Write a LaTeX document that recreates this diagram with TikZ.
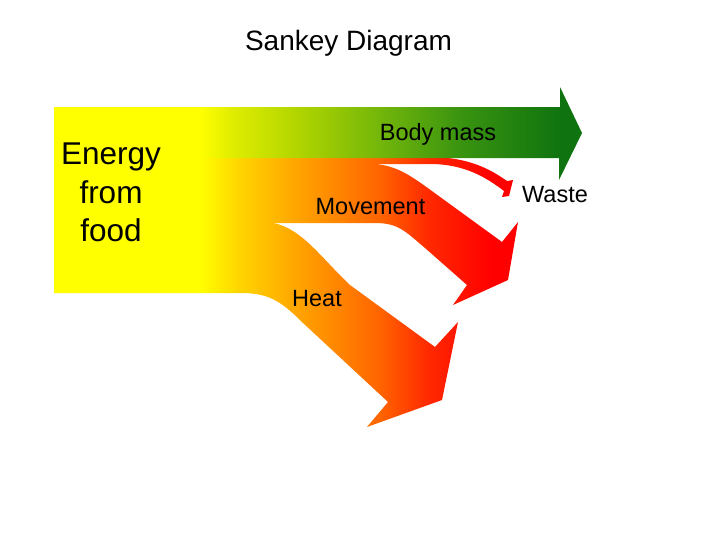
\documentclass[tikz,border=0pt]{standalone}
\usepackage{fontspec}
\setmainfont{Liberation Sans}
\usetikzlibrary{positioning}
\definecolor{cYel}{RGB}{255,255,0}
\definecolor{cLime}{RGB}{222,236,0}
\definecolor{cGreenA}{RGB}{175,212,0}
\definecolor{cGreenB}{RGB}{115,182,10}
\definecolor{cGreenC}{RGB}{58,148,16}
\definecolor{cGreenD}{RGB}{15,115,15}
\definecolor{cGold}{RGB}{255,212,0}
\definecolor{cOrange}{RGB}{255,162,0}
\definecolor{cOrRed}{RGB}{255,100,0}
\definecolor{cRedA}{RGB}{255,40,0}
\definecolor{cRed}{RGB}{255,0,0}
% stops at 25bp + x*50/728 (x in px of the picture)
\pgfdeclarehorizontalshading{massflow}{100bp}{color(0bp)=(cYel); color(38.7bp)=(cYel); color(41.1bp)=(cLime); color(45.6bp)=(cGreenA); color(51.1bp)=(cGreenB); color(56.6bp)=(cGreenC); color(63.5bp)=(cGreenD); color(100bp)=(cGreenD)}
\pgfdeclarehorizontalshading{lossflow}{100bp}{color(0bp)=(cYel); color(38.7bp)=(cYel); color(41.5bp)=(cGold); color(45.6bp)=(cOrange); color(51.1bp)=(cOrRed); color(54.5bp)=(cRedA); color(58.7bp)=(cRed); color(100bp)=(cRed)}

\begin{document}
\begin{tikzpicture}[x=1pt,y=-1pt]
\tikzset{
  lbl/.style={anchor=base,inner sep=0pt,font=\fontsize{23.5}{27}\selectfont},
  src/.style={inner sep=0pt,align=center,font=\fontsize{31.5}{38.5}\selectfont},
  ttl/.style={anchor=base,inner sep=0pt,font=\fontsize{28}{32}\selectfont}
}
\useasboundingbox (0,0) rectangle (728,546);

% heat
\begin{scope}
\clip (54,222) -- (263,222) .. controls (298,222) and (318,255) .. (350,285) -- (435,347) -- (458,322) -- (442,400) -- (367,427) -- (388,402) -- (303,323) .. controls (280,300) and (268,293) .. (240,293) -- (54,293) -- cycle;
\shade[shading=lossflow] (0,0) rectangle (728,546);
\end{scope}

% movement
\begin{scope}
\clip (54,163) -- (360,163) .. controls (392,163) and (405,172) .. (425,186) -- (502,242) -- (518,222) -- (508,280) -- (453,305) -- (467,285) -- (425,248) .. controls (405,231) and (398,223) .. (375,223) -- (54,223) -- cycle;
\shade[shading=lossflow] (0,0) rectangle (728,546);
\end{scope}

% waste
\begin{scope}
\clip (54,157) -- (430,157) .. controls (468,157) and (490,169) .. (507,181) -- (513,180) -- (509,196) -- (502,197) -- (504,191) .. controls (487,178) and (465,164) .. (430,164) -- (54,164) -- cycle;
\shade[shading=lossflow] (0,0) rectangle (728,546);
\end{scope}

% body mass
\begin{scope}
\clip (54,107) -- (560,107) -- (560,87) -- (582,133) -- (559,180) -- (559,158) -- (54,158) -- cycle;
\shade[shading=massflow] (0,0) rectangle (728,546);
\end{scope}

\node[ttl] (title) at (348.5,50.5) {Sankey Diagram};
\node[src] (food) at (111,192.5) {Energy\\from\\food};
\node[lbl] (mass) at (438,140) {Body mass};
\node[lbl] (waste) at (555,202.5) {Waste};
\node[lbl] (move) at (370.5,214) {Movement};
\node[lbl] (heat) at (317,306) {Heat};
\end{tikzpicture}
\end{document}
